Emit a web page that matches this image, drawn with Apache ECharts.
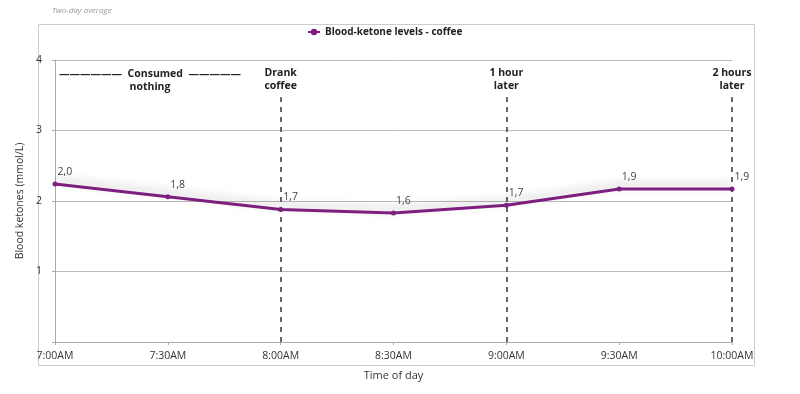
<!DOCTYPE html>
<html><head><meta charset="utf-8">
<script src="https://cdn.jsdelivr.net/npm/echarts@6/dist/echarts.min.js"></script>
<style>html,body{margin:0;padding:0;background:#fff}#c{width:800px;height:394px}</style>
</head><body><div id="c"></div>
<script>
var categories = ['7:00AM','7:30AM','8:00AM','8:30AM','9:00AM','9:30AM','10:00AM'];
var ketoneValues = [2.24, 2.06, 1.88, 1.83, 1.94, 2.17, 2.17];
var valueLabels = ['2,0','1,8','1,7','1,6','1,7','1,9','1,9'];
var yTicks = [0, 1, 2, 3, 4];
var eventMarks = [
  {time: '8:00AM', text: 'Drank\ncoffee'},
  {time: '9:00AM', text: '1 hour\nlater'},
  {time: '10:00AM', text: '2 hours\nlater'}
];
var markTop = 3.47;
var FONT = '"Open Sans", "Noto Sans", sans-serif';

var chart = echarts.init(document.getElementById('c'), null, {renderer: 'canvas'});
var option = {
  animation: false,
  textStyle: {fontFamily: FONT},
  title: {
    text: 'Two-day average', left: 47, top: 2,
    textStyle: {fontSize: 8, fontStyle: 'italic', fontWeight: 'normal', color: '#999', fontFamily: FONT}
  },
  legend: {
    top: 22, left: 302,
    itemWidth: 12, itemHeight: 8, itemGap: 6,
    textStyle: {fontSize: 10, fontWeight: 'bold', color: '#222', fontFamily: FONT},
    data: ['Blood-ketone levels - coffee']
  },
  grid: {left: 55, right: 68, top: 60, bottom: 52},
  xAxis: {
    type: 'category', data: categories, boundaryGap: false,
    name: 'Time of day', nameLocation: 'middle', nameGap: 28,
    nameTextStyle: {fontSize: 11, color: '#333', fontFamily: FONT},
    axisLine: {lineStyle: {color: '#aaa'}},
    axisTick: {show: true, lineStyle: {color: '#aaa'}, length: 3},
    axisLabel: {fontSize: 10.5, color: '#333', margin: 9, fontFamily: FONT},
    splitLine: {show: false}
  },
  yAxis: {
    type: 'value', min: yTicks[0], max: yTicks[yTicks.length - 1], interval: 1,
    name: 'Blood ketones (mmol/L)', nameLocation: 'middle', nameGap: 27,
    nameTextStyle: {fontSize: 10.5, color: '#333', fontFamily: FONT},
    axisLine: {show: true, lineStyle: {color: '#aaa'}},
    axisTick: {show: true, lineStyle: {color: '#aaa'}, length: 3},
    axisLabel: {fontSize: 10.5, color: '#333', margin: 13, fontFamily: FONT,
      formatter: function (v) { return v === 0 ? '' : String(v); }},
    splitLine: {lineStyle: {color: '#bbb', width: 1}}
  },
  series: [{
    name: 'Blood-ketone levels - coffee',
    type: 'line',
    data: ketoneValues,
    symbol: 'circle', symbolSize: 5,
    itemStyle: {color: '#7d1f7f'},
    lineStyle: {color: '#7d1f7f', width: 3, shadowColor: 'rgba(0,0,0,0.22)', shadowBlur: 8, shadowOffsetY: -4},
    label: {
      show: true, position: [5, -15], fontSize: 10.5, color: '#444', fontFamily: FONT,
      formatter: function (p) { return valueLabels[p.dataIndex]; }
    },
    markLine: {
      silent: true, symbol: 'none',
      lineStyle: {color: '#666', type: [5, 5], width: 2},
      label: {show: true, position: 'end', distance: 5, fontSize: 10.5, fontWeight: 'bold', color: '#222', lineHeight: 13, fontFamily: FONT,
        formatter: function (p) { return p.data.text || ''; }},
      data: eventMarks.map(function (m) {
        return [{coord: [m.time, 0], text: m.text}, {coord: [m.time, markTop]}];
      })
    },
    z: 5
  }],
  graphic: [
    {type: 'rect', left: 36, top: 22, shape: {width: 716, height: 341},
      style: {fill: 'none', stroke: '#ccc', lineWidth: 1}, silent: true, z: -1},
    {type: 'text', x: 150, y: 68,
      style: {text: '——————  Consumed  —————\nnothing', font: 'bold 10.5px ' + FONT, fill: '#222', align: 'center', lineHeight: 13}}
  ]
};
chart.setOption(option);
</script></body></html>
